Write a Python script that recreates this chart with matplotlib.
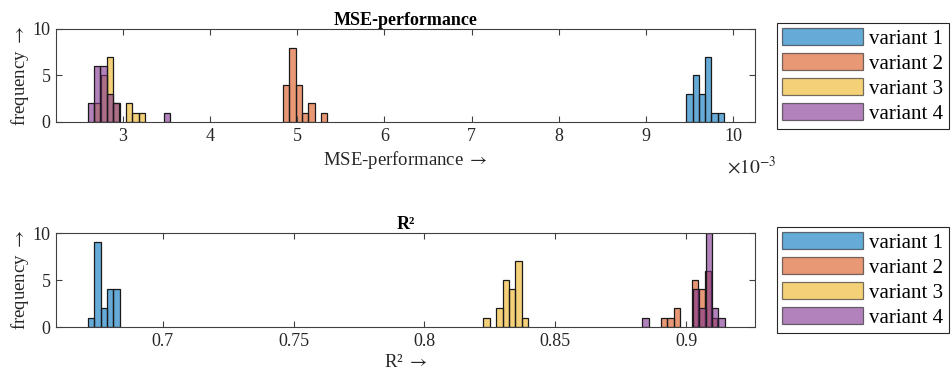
import matplotlib
matplotlib.use("Agg")
import matplotlib.pyplot as plt
import numpy as np
from matplotlib.ticker import FuncFormatter, FixedLocator

plt.rcParams['font.family'] = ['Liberation Serif', 'DejaVu Serif']
plt.rcParams['mathtext.fontset'] = 'stix'

labels = ['variant 1', 'variant 2', 'variant 3', 'variant 4']

# MSE-performance histograms (bin start, bin width, counts per bin)
mse_start = [9.464e-3, 4.838e-3, 2.671e-3, 2.595e-3]
mse_width = [0.072e-3, 0.0727e-3, 0.0727e-3, 0.0727e-3]
mse_counts = [
    [3, 5, 3, 7, 1, 1],
    [4, 8, 4, 1, 2, 0, 1],
    [2, 5, 7, 2, 0, 2, 1, 1],
    [2, 6, 6, 3, 2, 0, 0, 0, 0, 0, 0, 0, 1],
]

# R² histograms
r2_start = [0.67137, 0.89046, 0.82252, 0.8832]
r2_width = [0.00244, 0.00237, 0.00245, 0.00242]
r2_counts = [
    [1, 9, 2, 4, 4],
    [1, 1, 2, 0, 0, 5, 4, 6, 1],
    [1, 0, 2, 5, 4, 7, 1],
    [1, 0, 0, 0, 0, 0, 0, 0, 4, 2, 10, 2, 1],
]

mse_ticks = [3e-3, 4e-3, 5e-3, 6e-3, 7e-3, 8e-3, 9e-3, 10e-3]
r2_ticks = [0.7, 0.75, 0.8, 0.85, 0.9]
y_ticks = [0, 5, 10]

colors = ['#0072BD', '#D95319', '#EDB120', '#7E2F8E']
axcol = '#404040'
txtcol = '#262626'

fig = plt.figure(figsize=(9.52, 3.81), dpi=100)
ax1 = fig.add_axes([0.0588, 0.6798, 0.7343, 0.2441])
ax2 = fig.add_axes([0.0588, 0.1417, 0.7343, 0.2467])


def draw_hist(ax, starts, widths, counts):
    for s, w, c, col, lab in zip(starts, widths, counts, colors, labels):
        c = np.array(c)
        lefts = s + w * np.arange(len(c))
        keep = c > 0
        ax.bar(lefts[keep], c[keep], width=w, align='edge', color=col,
               alpha=0.6, edgecolor='none', label=lab)
        ax.bar(lefts[keep], c[keep], width=w, align='edge', fill=False,
               edgecolor='#1a1a1a', linewidth=0.9)


def style(ax, title, xlabel, ticks, xlim, scale):
    ax.set_xlim(*xlim)
    ax.set_ylim(0, 10)
    ax.xaxis.set_major_locator(FixedLocator(ticks))
    ax.xaxis.set_major_formatter(FuncFormatter(lambda v, p: '{:g}'.format(round(v * scale, 6))))
    ax.set_yticks(y_ticks)
    ax.tick_params(direction='in', top=True, right=True, length=4,
                   width=0.8, colors=axcol, labelsize=13, labelcolor=txtcol,
                   pad=4)
    for sp in ax.spines.values():
        sp.set_color(axcol)
        sp.set_linewidth(0.8)
    ax.set_title(title, fontsize=13, fontweight='bold', pad=3)
    ax.set_xlabel(xlabel + r' $\rightarrow$', fontsize=13.5, labelpad=3, color=txtcol)
    ax.set_ylabel(r'frequency $\rightarrow$', fontsize=13.5, labelpad=1, color=txtcol)
    leg = ax.legend(loc='upper left', bbox_to_anchor=(1.031, 1.065),
                    fontsize=15, frameon=True, fancybox=False,
                    framealpha=1, edgecolor=txtcol, handlelength=3.9,
                    handleheight=0.85, labelspacing=0.22, handletextpad=0.3,
                    borderpad=0.25, borderaxespad=0)
    leg.get_frame().set_linewidth(0.8)
    for h in leg.legend_handles:
        h.set_alpha(0.6)
        h.set_edgecolor('#1a1a1a')
        h.set_linewidth(0.9)


draw_hist(ax1, mse_start, mse_width, mse_counts)
draw_hist(ax2, r2_start, r2_width, r2_counts)

style(ax1, 'MSE-performance', 'MSE-performance', mse_ticks,
      (2.232e-3, 10.252e-3), 1e3)
style(ax2, 'R²', 'R²', r2_ticks, (0.6592, 0.9263), 1)

ax1.text(0.96, -0.48, r'$\times10^{-3}$', transform=ax1.transAxes,
         ha='left', va='center', fontsize=14, color=txtcol)

fig.savefig('out.png', dpi=100)
